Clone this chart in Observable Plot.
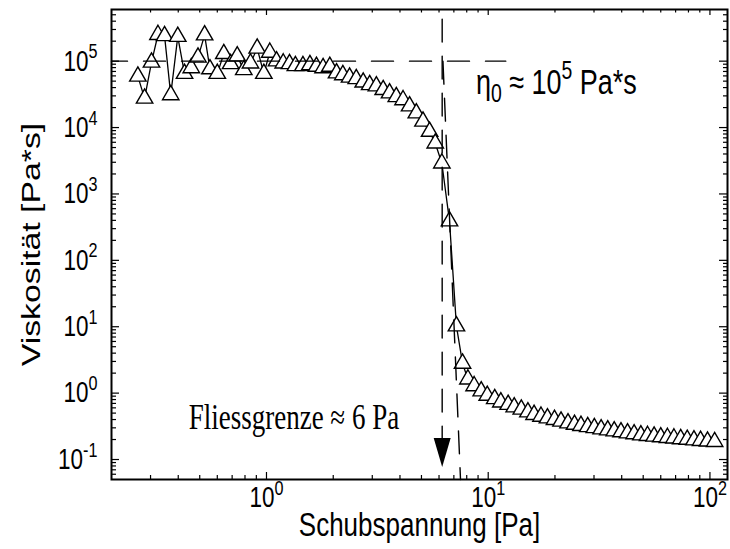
<!DOCTYPE html>
<html><head><meta charset="utf-8">
<script src="https://cdn.jsdelivr.net/npm/d3@7"></script>
<script src="https://cdn.jsdelivr.net/npm/@observablehq/plot@0.6"></script>
<style>html,body{margin:0;padding:0;background:#fff}svg{display:block}</style>
</head><body><div id="chart"></div>
<script>
// ---- data ----
const stress = [0.263,0.282,0.303,0.324,0.347,0.370,0.398,0.427,0.458,0.491,0.526,0.556,0.600,0.642,0.689,0.738,0.790,0.847,0.908,0.973,1.035,1.11,1.19,1.27,
  1.35,1.46,1.57,1.68,1.80,1.93,2.07,2.21,2.37,2.54,2.73,2.92,3.13,3.36,3.59,3.85,4.13,4.42,4.74,5.08,5.44,5.77,6.18,
  6.69,7.19,7.66,
  8.1,8.64,9.3,9.9,10.7,11.4,12.3,13.1,14.1,15.1,16.1,17.3,18.5,19.9,21.3,22.9,24.5,26.2,28.1,30.1,32.3,34.6,37.0,39.7,42.5,45.5,48.8,52.3,56.0,60.0,64.3,68.8,73.8,79.0,84.7,90.7,97.5,105];
const viscosity = [5.9e4,2.75e4,9.6e4,2.5e5,2.4e5,3.1e4,2.34e5,6.5e4,7.9e4,1.14e5,2.47e5,7.6e4,6.5e4,1.29e5,9.1e4,1.19e5,7.4e4,9.3e4,1.56e5,6.5e4,1.35e5,1.0e5,9.3e4,9.1e4,
  8.5e4,8.5e4,8.8e4,8.3e4,7.9e4,8.3e4,6.6e4,6.2e4,5.7e4,5.4e4,4.8e4,4.4e4,4.2e4,3.7e4,3.3e4,2.9e4,2.6e4,2.1e4,1.65e4,1.24e4,8.7e3,5.8e3,2.9e3,
  390,10.2,2.8,
  1.62,1.28,1.07,0.92,0.82,0.73,0.67,0.615,0.568,0.518,0.473,0.445,0.42,0.398,0.375,0.353,0.336,0.323,0.31,0.30,0.287,0.277,0.268,0.259,0.25,0.242,0.233,0.228,0.223,0.218,0.213,0.209,0.204,0.2,0.196,0.192,0.188,0.185];

const xDomain = [0.2, 120];
const yDomain = [0.05, 6e5];
const xTickValues = [1, 10, 100];
const yTickValues = [0.1, 1, 10, 100, 1000, 10000, 100000];

const xLabel = "Schubspannung [Pa]";
const yLabel = "Viskosität [Pa*s]";

// zero-shear viscosity guide
const eta0 = 1e5;
const eta0LineX = [0.2, 12];
const eta0Text = "η_{0} ≈ 10^{5} Pa*s";
const eta0TextPos = [8.8, 3.2e4];

// yield stress guide
const yieldStress = 6.2;
const yieldLineY = [4.3e5, 0.2];
const yieldArrowTip = 0.077;
const yieldText = "Fliessgrenze ≈ 6 Pa";
const yieldTextPos = [0.446, 0.29];

// tangent to the steep drop
const tangentX = [6.25, 7.5];
const tangentY = [1e5, 0.05];

// ---- layout ----
const W = 730, H = 549;
const mL = 111, mR = 3, mT = 9, mB = 70;
const innerW = W - mL - mR, innerH = H - mT - mB;
const STRETCH = 1.3; // the reference's lettering is taller than it is wide

const data = stress.map((x, i) => ({x, y: viscosity[i]}));
const xAll = d3.scaleLog().domain(xDomain).ticks().filter(v => v > xDomain[0] && v < xDomain[1]);
const yAll = d3.scaleLog().domain(yDomain).ticks().filter(v => v > yDomain[0] && v < yDomain[1]);
const isMajor = v => Math.abs(Math.log10(v) - Math.round(Math.log10(v))) < 1e-9;
const xMinor = xAll.filter(v => !isMajor(v));
const yMinor = yAll.filter(v => !isMajor(v));
const xMajor = xAll.filter(isMajor);
const yMajor = yAll.filter(isMajor);

const pow = d => `10^{${Math.round(Math.log10(d))}}`;

const arrowHead = {draw(ctx) { ctx.moveTo(0, 0); ctx.lineTo(-8.5, -29); ctx.lineTo(8.5, -29); ctx.closePath(); }};
const dash = {stroke: "black", strokeWidth: 1.4, strokeDasharray: "22,16"};

const plot = Plot.plot({
  width: W, height: H,
  marginLeft: mL, marginRight: mR, marginTop: mT, marginBottom: mB,
  style: {fontFamily: "'Liberation Sans', Arial, sans-serif", background: "white", color: "black"},
  x: {type: "log", domain: xDomain},
  y: {type: "log", domain: yDomain},
  marks: [
    // ticks inward on all four sides
    Plot.tickX(xMajor, {x: d => d, insetTop: innerH - 7, stroke: "black", strokeWidth: 1.2}),
    Plot.tickX(xMinor, {x: d => d, insetTop: innerH - 4, stroke: "black", strokeWidth: 1.2}),
    Plot.tickX(xMajor, {x: d => d, insetBottom: innerH - 6, stroke: "black", strokeWidth: 1.2}),
    Plot.tickX(xMinor, {x: d => d, insetBottom: innerH - 3.5, stroke: "black", strokeWidth: 1.2}),
    Plot.tickY(yMajor, {y: d => d, insetRight: innerW - 8, stroke: "black", strokeWidth: 1.2}),
    Plot.tickY(yMinor, {y: d => d, insetRight: innerW - 5, stroke: "black", strokeWidth: 1.2}),
    Plot.tickY(yMajor, {y: d => d, insetLeft: innerW - 8, stroke: "black", strokeWidth: 1.2}),
    Plot.tickY(yMinor, {y: d => d, insetLeft: innerW - 4, stroke: "black", strokeWidth: 1.2}),
    Plot.axisX({ticks: xTickValues, tickSize: 0, tickPadding: 7, tickFormat: pow, fontSize: 22.5, label: null}),
    Plot.axisY({ticks: yTickValues, tickSize: 0, tickPadding: 14, tickFormat: pow, fontSize: 22.5, label: null}),
    // data
    Plot.line(data, {x: "x", y: "y", stroke: "black", strokeWidth: 1.3}),
    Plot.dot(data, {x: "x", y: "y", symbol: "triangle", r: 6.1, fill: "white", stroke: "black", strokeWidth: 1.4}),
    // guides
    Plot.line(eta0LineX.map(x => ({x, y: eta0})), {x: "x", y: "y", ...dash, strokeDashoffset: 6}),
    Plot.line(yieldLineY.map(y => ({x: yieldStress, y})), {x: "x", y: "y", ...dash, strokeDasharray: "23,14"}),
    Plot.line(tangentX.map((x, i) => ({x, y: tangentY[i]})), {x: "x", y: "y", ...dash, strokeDasharray: "23,14"}),
    Plot.dot([{x: yieldStress, y: yieldArrowTip}], {x: "x", y: "y", symbol: arrowHead, fill: "black", stroke: "none"}),
    Plot.text([eta0Text], {x: eta0TextPos[0], y: eta0TextPos[1], text: d => d, textAnchor: "start", lineAnchor: "bottom", fontSize: 27}),
    Plot.text([yieldText], {x: yieldTextPos[0], y: yieldTextPos[1], text: d => d, textAnchor: "start", lineAnchor: "bottom", fontSize: 27, fontFamily: "'Liberation Serif', 'Times New Roman', serif"}),
    // axis titles
    Plot.text([xLabel], {frameAnchor: "bottom", dy: 46, text: d => d, textAnchor: "middle", lineAnchor: "middle", fontSize: 26}),
    Plot.text([yLabel], {frameAnchor: "left", dx: -80, rotate: -90, text: d => d, textAnchor: "middle", lineAnchor: "middle", fontSize: 26}),
    Plot.frame({stroke: "black", strokeWidth: 2})
  ]
});
document.getElementById("chart").appendChild(plot);

// turn ^{..} and _{..} into super/subscripts
const NS = "http://www.w3.org/2000/svg";
function richify(t) {
  const s = t.textContent;
  if (!/[\^_]\{/.test(s)) return;
  const fs = parseFloat(getComputedStyle(t).fontSize);
  while (t.firstChild) t.removeChild(t.firstChild);
  let shift = 0, last = 0, m;
  const re = /([\^_])\{([^}]*)\}/g;
  const add = (txt, kind) => {
    const ts = document.createElementNS(NS, "tspan");
    ts.textContent = txt;
    const target = kind === "^" ? -0.42 * fs : kind === "_" ? 0.22 * fs : 0;
    if (target - shift) ts.setAttribute("dy", target - shift);
    if (kind) ts.setAttribute("font-size", 0.72 * fs);
    shift = target;
    t.appendChild(ts);
  };
  while ((m = re.exec(s))) {
    if (m.index > last) add(s.slice(last, m.index), "");
    add(m[2], m[1]);
    last = re.lastIndex;
  }
  if (last < s.length) add(s.slice(last), "");
}
plot.querySelectorAll("text").forEach(t => {
  richify(t);
  // stretch lettering vertically (on screen) about its anchor point
  const tr = t.getAttribute("transform") || "";
  t.setAttribute("transform", tr + (/rotate\(/.test(tr) ? ` scale(${STRETCH},1)` : ` scale(1,${STRETCH})`));
});
</script>
</body></html>
